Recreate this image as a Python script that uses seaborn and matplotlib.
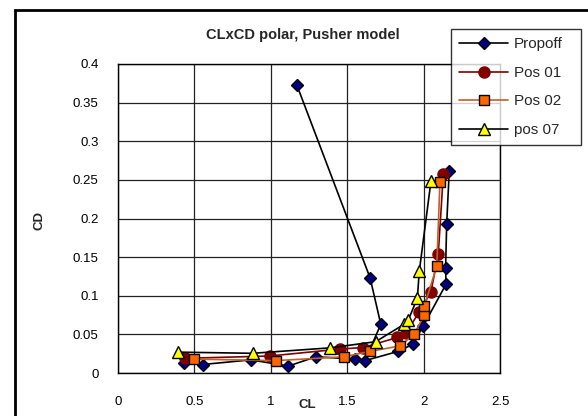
import numpy as np
import pandas as pd
import seaborn as sns
import matplotlib
matplotlib.use("Agg")
import matplotlib.pyplot as plt
from matplotlib.lines import Line2D
from matplotlib.patches import Rectangle

# ---------------- data ----------------
series_names = ["Propoff", "Pos 01", "Pos 02", "pos 07"]

propoff_cl = [0.432, 0.554, 0.870, 1.115, 1.296, 1.551,
              1.17, 1.65, 1.72, 1.616, 1.834, 1.928, 1.998, 2.147, 2.144, 2.151, 2.168]
propoff_cd = [0.013, 0.011, 0.017, 0.009, 0.021, 0.018,
              0.373, 0.123, 0.063, 0.016, 0.028, 0.037, 0.061, 0.115, 0.136, 0.193, 0.262]
propoff_seg = [0, 0, 0, 0, 0, 0,
               1, 1, 1, 1, 1, 1, 1, 1, 1, 1, 1]

pos01_cl = [0.438, 0.995, 1.453, 1.605, 1.828, 1.885, 1.972, 2.048, 2.096, 2.129]
pos01_cd = [0.019, 0.022, 0.031, 0.033, 0.046, 0.052, 0.079, 0.105, 0.154, 0.257]

pos02_cl = [0.497, 1.032, 1.479, 1.649, 1.846, 1.937, 2.005, 2.005, 2.086, 2.107]
pos02_cd = [0.018, 0.016, 0.021, 0.028, 0.035, 0.050, 0.075, 0.087, 0.138, 0.247]

pos07_cl = [0.391, 0.881, 1.385, 1.686, 1.872, 1.900, 1.959, 1.972, 2.048]
pos07_cd = [0.027, 0.0255, 0.0325, 0.0405, 0.063, 0.0686, 0.097, 0.132, 0.248]

x_ticks = [0, 0.5, 1, 1.5, 2, 2.5]
x_tick_labels = ["0", "0.5", "1", "1.5", "2", "2.5"]
y_ticks = [0, 0.05, 0.1, 0.15, 0.2, 0.25, 0.3, 0.35, 0.4]
y_tick_labels = ["0", "0.05", "0.1", "0.15", "0.2", "0.25", "0.3", "0.35", "0.4"]

title_text = "CLxCD polar, Pusher model"
x_label = "CL"
y_label = "CD"

# ---------------- styles ----------------
styles = {
    "Propoff": dict(line="#000000", marker="D", mfc="#000080", mec="#000000", ms=6.5),
    "Pos 01": dict(line="#800000", marker="o", mfc="#800000", mec="#800000", ms=8),
    "Pos 02": dict(line="#C0602A", marker="s", mfc="#FF6600", mec="#000000", ms=7.5),
    "pos 07": dict(line="#000000", marker="^", mfc="#FFFF00", mec="#000000", ms=8),
}

frames = [
    pd.DataFrame({"CL": propoff_cl, "CD": propoff_cd, "seg": propoff_seg, "series": "Propoff"}),
    pd.DataFrame({"CL": pos01_cl, "CD": pos01_cd, "seg": 0, "series": "Pos 01"}),
    pd.DataFrame({"CL": pos02_cl, "CD": pos02_cd, "seg": 0, "series": "Pos 02"}),
    pd.DataFrame({"CL": pos07_cl, "CD": pos07_cd, "seg": 0, "series": "pos 07"}),
]

sns.set_style("white")
plt.rcParams["font.family"] = ["Liberation Sans", "DejaVu Sans"]

W, H = 588, 416
fig = plt.figure(figsize=(W / 100, H / 100), dpi=100)
fig.patch.set_facecolor("white")

ax_left, ax_right, ax_top, ax_bottom = 118, 500, 64, 373
ax = fig.add_axes([ax_left / W, 1 - ax_bottom / H,
                   (ax_right - ax_left) / W, (ax_bottom - ax_top) / H])

for name, df in zip(series_names, frames):
    st = styles[name]
    sns.lineplot(data=df, x="CL", y="CD", units="seg", estimator=None, sort=False,
                 ax=ax, color=st["line"], linewidth=1.2, marker=st["marker"],
                 markerfacecolor=st["mfc"], markeredgecolor=st["mec"],
                 markersize=st["ms"], markeredgewidth=1.0, legend=False, zorder=3)

ax.set_xlim(0, 2.5)
ax.set_ylim(0, 0.4)
ax.set_xticks(x_ticks)
ax.set_xticklabels(x_tick_labels)
ax.set_yticks(y_ticks)
ax.set_yticklabels(y_tick_labels)
ax.tick_params(axis="x", direction="out", length=5, width=1, color="black",
               labelsize=9.5, pad=11.5, labelcolor="black")
ax.tick_params(axis="y", direction="out", length=5, width=1, color="black",
               labelsize=9.5, pad=9, labelcolor="black")
ax.grid(True, color="#222222", linewidth=0.9)
ax.set_axisbelow(True)
for sp in ax.spines.values():
    sp.set_visible(True)
    sp.set_color("black")
    sp.set_linewidth(1.0)

ax.set_xlabel(x_label, fontsize=9.5, fontweight="bold")
ax.set_ylabel(y_label, fontsize=9.5, fontweight="bold")
ax.xaxis.set_label_coords((307 - ax_left) / (ax_right - ax_left),
                          -(405 - ax_bottom) / (ax_bottom - ax_top))
ax.xaxis.label.set_va("center")
ax.yaxis.set_label_coords((40 - ax_left) / (ax_right - ax_left),
                          (ax_bottom - 220) / (ax_bottom - ax_top))
ax.yaxis.label.set_va("center")

fig.text(303 / W, 1 - 35 / H, title_text, ha="center", va="center",
         fontsize=10.5, fontweight="bold")

# legend
handles = []
for name in series_names:
    st = styles[name]
    handles.append(Line2D([0], [0], color=st["line"], lw=1.2, marker=st["marker"],
                          markerfacecolor=st["mfc"], markeredgecolor=st["mec"],
                          markersize=st["ms"], markeredgewidth=1.0))
leg_x0, leg_x1, leg_y0, leg_y1 = 451, 581, 29, 148
leg = fig.legend(handles, series_names, loc="upper left", mode="expand",
                 bbox_to_anchor=(leg_x0 / W, 1 - leg_y1 / H,
                                 (leg_x1 - leg_x0) / W, (leg_y1 - leg_y0) / H),
                 bbox_transform=fig.transFigure,
                 frameon=True, fancybox=False, shadow=False, fontsize=11,
                 handlelength=3.2, handletextpad=0.35, labelspacing=0.95,
                 borderpad=0.55, borderaxespad=0)
leg.get_frame().set_edgecolor("black")
leg.get_frame().set_linewidth(1.0)

# outer chart border (extends beyond the image on right and bottom)
fig.add_artist(Rectangle((15 / W, -0.2), 2.0, 1.2 - 10 / H, transform=fig.transFigure,
                         fill=False, edgecolor="black", linewidth=2.0))

fig.savefig("out.png", dpi=100)
